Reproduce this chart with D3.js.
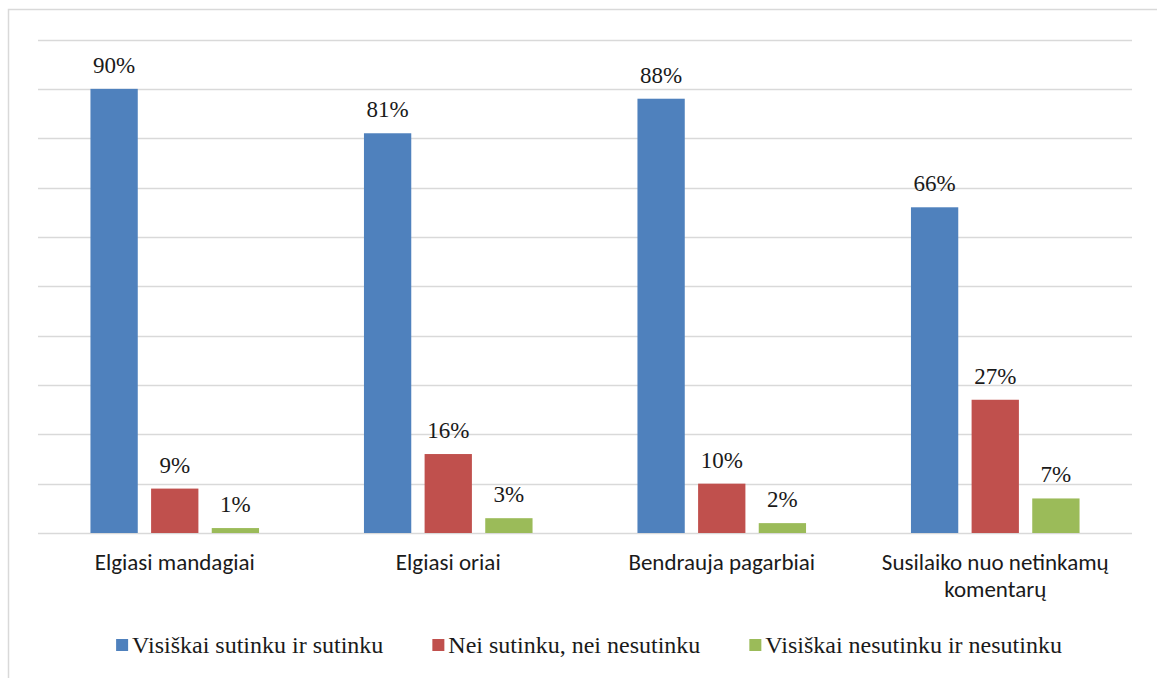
<!DOCTYPE html>
<html>
<head>
<meta charset="utf-8">
<script src="https://cdn.jsdelivr.net/npm/d3@7"></script>
<style>
  html, body { margin: 0; padding: 0; background: #fff; }
  svg { display: block; }
</style>
</head>
<body>
<svg id="chart" width="1157" height="678"></svg>
<script>
// Survey answers per statement, in percent
const categories = [
  "Elgiasi mandagiai",
  "Elgiasi oriai",
  "Bendrauja pagarbiai",
  "Susilaiko nuo netinkamų komentarų"
];
const seriesNames = [
  "Visiškai sutinku ir sutinku",
  "Nei sutinku, nei nesutinku",
  "Visiškai nesutinku ir nesutinku"
];
const agree    = [90, 81, 88, 66];
const neutral  = [9, 16, 10, 27];
const disagree = [1, 3, 2, 7];
const gridTicks = [0, 10, 20, 30, 40, 50, 60, 70, 80, 90, 100];
const colors = ["#4F81BD", "#C0504D", "#9BBB59"];

const seriesValues = [agree, neutral, disagree];

const svg = d3.select("#chart");
const W = 1157, H = 678;
const plot = { left: 38, right: 1132, top: 39.5, bottom: 533 };

// Outer chart frame
svg.append("rect")
  .attr("x", 8.5).attr("y", 9.5)
  .attr("width", W + 20).attr("height", H + 20)
  .attr("fill", "#fff")
  .attr("stroke", "#d9d9d9")
  .attr("stroke-width", 1.5);

const y = d3.scaleLinear().domain([0, 100]).range([plot.bottom, plot.top]);
const x0 = d3.scaleBand().domain(categories).range([plot.left, plot.right]).padding(0);
const x1 = d3.scaleBand().domain(seriesNames).range([0, x0.bandwidth()])
  .paddingInner(0.22).paddingOuter(0.865);

// Horizontal gridlines
svg.append("g")
  .selectAll("line")
  .data(gridTicks)
  .join("line")
  .attr("x1", plot.left).attr("x2", plot.right)
  .attr("y1", d => Math.round(y(d)) + 0.5)
  .attr("y2", d => Math.round(y(d)) + 0.5)
  .attr("stroke", "#d9d9d9")
  .attr("stroke-width", 1.3);

// Bars and value labels (value labels use the page's default serif face)
const groups = svg.append("g")
  .selectAll("g")
  .data(categories)
  .join("g")
  .attr("transform", d => `translate(${x0(d)},0)`);

const cells = groups.selectAll("g.cell")
  .data((c, ci) => seriesNames.map((s, si) => ({ s, si, v: seriesValues[si][ci] })))
  .join("g").attr("class", "cell");

cells.append("rect")
  .attr("x", d => x1(d.s))
  .attr("width", x1.bandwidth())
  .attr("y", d => y(d.v))
  .attr("height", d => y(0) - y(d.v))
  .attr("fill", d => colors[d.si]);

cells.append("text")
  .attr("x", d => x1(d.s) + x1.bandwidth() / 2)
  .attr("y", d => y(d.v) - 16)
  .attr("text-anchor", "middle")
  .attr("font-size", 23)
  .attr("fill", "#1a1a1a")
  .text(d => d.v + "%");

// Category labels, wrapped to the band width
const catFont = "Carlito, Lato, sans-serif";
const catSize = 23;
const catG = svg.append("g");
categories.forEach(c => {
  const cx = x0(c) + x0.bandwidth() / 2;
  const t = catG.append("text")
    .attr("text-anchor", "middle")
    .attr("font-family", catFont)
    .attr("font-size", catSize)
    .attr("fill", "#1a1a1a");
  const words = c.split(" ");
  let lines = [], cur = [];
  const probe = catG.append("text").attr("font-family", catFont).attr("font-size", catSize);
  words.forEach(w => {
    const test = cur.concat([w]).join(" ");
    probe.text(test);
    if (probe.node().getComputedTextLength() > 250 && cur.length) {
      lines.push(cur.join(" "));
      cur = [w];
    } else cur.push(w);
  });
  lines.push(cur.join(" "));
  probe.remove();
  lines.forEach((ln, i) => {
    t.append("tspan").attr("x", cx).attr("y", 570 + i * 27).text(ln);
  });
});

// Legend
const legend = svg.append("g");
const items = [];
seriesNames.forEach((name, i) => {
  const g = legend.append("g");
  g.append("rect").attr("x", 0).attr("y", 639).attr("width", 12).attr("height", 12).attr("fill", colors[i]);
  const tx = g.append("text").attr("x", 16).attr("y", 653)
    .attr("font-size", 24).attr("fill", "#1a1a1a").text(name);
  const w = 16 + tx.node().getComputedTextLength();
  items.push({ g, w });
});
const gap = 49;
const total = d3.sum(items, d => d.w) + gap * (items.length - 1);
let lx = 589 - total / 2;
items.forEach(it => {
  it.g.attr("transform", `translate(${lx},0)`);
  lx += it.w + gap;
});
</script>
</body>
</html>
